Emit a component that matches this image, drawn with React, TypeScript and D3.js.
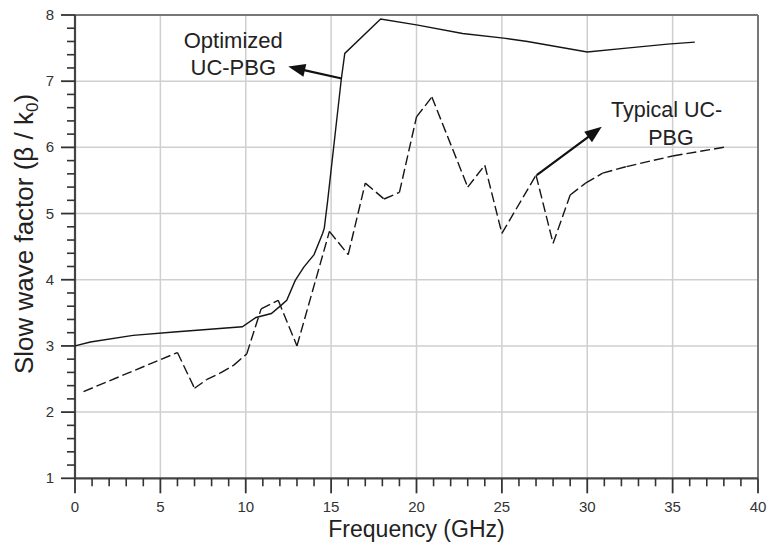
import React from "react";
import * as d3 from "d3";

const optFreq = [0, 0.9, 3.4, 5.8, 9.8, 10.6, 11.5, 12.1, 12.4, 12.9, 13.4, 14.0, 14.5, 14.6, 14.8, 15.6, 15.8, 17.9, 20.0, 22.7, 25.1, 26.5, 30.0, 32.3, 34.7, 36.3];
const optVal = [3.0, 3.06, 3.16, 3.21, 3.29, 3.43, 3.49, 3.62, 3.69, 3.99, 4.19, 4.38, 4.7, 4.78, 5.2, 7.04, 7.42, 7.94, 7.85, 7.72, 7.65, 7.6, 7.44, 7.5, 7.56, 7.59];

const typFreq = [0.5, 6.0, 7.0, 7.7, 8.5, 9.3, 10.06, 10.9, 11.9, 13.0, 14.9, 16.0, 17.0, 18.1, 19.0, 20.0, 20.9, 23.0, 24.0, 25.0, 27.0, 28.0, 29.0, 29.9, 30.9, 32.3, 35.0, 38.2];
const typVal = [2.31, 2.9, 2.36, 2.49, 2.59, 2.71, 2.88, 3.56, 3.69, 3.0, 4.73, 4.38, 5.46, 5.22, 5.32, 6.46, 6.76, 5.4, 5.73, 4.7, 5.58, 4.55, 5.28, 5.46, 5.61, 5.71, 5.87, 6.01];

const xMajor = [0, 5, 10, 15, 20, 25, 30, 35, 40];
const yMajor = [1, 2, 3, 4, 5, 6, 7, 8];

const xTitle = "Frequency (GHz)";
const yTitleMain = "Slow wave factor (β / k";
const yTitleSub = "0";
const annOpt = ["Optimized", "UC-PBG"];
const annTyp = ["Typical UC-", "PBG"];

const W = 770, H = 547;
const FONT = "'Liberation Sans', Arial, sans-serif";

export default function App() {
  const x = d3.scaleLinear().domain([0, 40]).range([75, 758]);
  const y = d3.scaleLinear().domain([1, 8]).range([478.3, 15]);

  const xMinor = d3.range(0, 40.001, 1).filter((v) => v % 5 !== 0);
  const yMinor = d3.range(1, 8.001, 0.2).map((v) => +v.toFixed(1)).filter((v) => Math.abs(v - Math.round(v)) > 0.01);

  const line = d3.line<[number, number]>().x((d) => x(d[0])).y((d) => y(d[1]));
  const optPts: [number, number][] = optFreq.map((f, i) => [f, optVal[i]]);
  const typPts: [number, number][] = typFreq.map((f, i) => [f, typVal[i]]);
  const typSegs = d3.pairs(typPts);

  const arrow = (x1: number, y1: number, x2: number, y2: number, key: string) => {
    const ax1 = x(x1), ay1 = y(y1), ax2 = x(x2), ay2 = y(y2);
    const ang = Math.atan2(ay2 - ay1, ax2 - ax1);
    const L = 17, hw = 6.5;
    const bx = ax2 - L * Math.cos(ang), by = ay2 - L * Math.sin(ang);
    const px = -Math.sin(ang) * hw, py = Math.cos(ang) * hw;
    return (
      <g key={key}>
        <line x1={ax1} y1={ay1} x2={bx + 2 * Math.cos(ang)} y2={by + 2 * Math.sin(ang)} stroke="#111" strokeWidth={2.2} />
        <polygon points={`${ax2},${ay2} ${bx + px},${by + py} ${bx - px},${by - py}`} fill="#111" />
      </g>
    );
  };

  return (
    <svg width={W} height={H} style={{ position: "absolute", left: 0, top: 0, background: "#fff" }} fontFamily={FONT}>
      <rect width={W} height={H} fill="#fff" />
      {/* grid */}
      {xMajor.slice(1, -1).map((v) => (
        <line key={"gx" + v} x1={x(v)} x2={x(v)} y1={y(8)} y2={y(1)} stroke="#cfcfcf" strokeWidth={1.5} />
      ))}
      {yMajor.slice(1, -1).map((v) => (
        <line key={"gy" + v} x1={x(0)} x2={x(40)} y1={y(v)} y2={y(v)} stroke="#cfcfcf" strokeWidth={1.5} />
      ))}
      {/* frame */}
      <line x1={x(0)} x2={x(40)} y1={y(8)} y2={y(8)} stroke="#777" strokeWidth={2} />
      <line x1={x(40)} x2={x(40)} y1={y(8)} y2={y(1)} stroke="#777" strokeWidth={2} />
      <line x1={x(0)} x2={x(40)} y1={y(1)} y2={y(1)} stroke="#444" strokeWidth={2.2} />
      <line x1={x(0)} x2={x(0)} y1={y(8)} y2={y(1)} stroke="#444" strokeWidth={2.2} />
      {/* x ticks */}
      {xMajor.map((v) => (
        <g key={"xt" + v}>
          <line x1={x(v)} x2={x(v)} y1={y(1)} y2={y(1) + 15} stroke="#333" strokeWidth={1.8} />
          <text x={x(v)} y={512} textAnchor="middle" fontSize={15} fill="#333">{v}</text>
        </g>
      ))}
      {xMinor.map((v) => (
        <line key={"xm" + v} x1={x(v)} x2={x(v)} y1={y(1)} y2={y(1) + 8} stroke="#333" strokeWidth={1.6} />
      ))}
      {/* y ticks */}
      {yMajor.map((v) => (
        <g key={"yt" + v}>
          <line x1={x(0) - 14} x2={x(0)} y1={y(v)} y2={y(v)} stroke="#333" strokeWidth={1.8} />
          <text x={54} y={y(v) + 5} textAnchor="end" fontSize={15} fill="#333">{v}</text>
        </g>
      ))}
      {yMinor.map((v) => (
        <line key={"ym" + v} x1={x(0) - 8} x2={x(0)} y1={y(v)} y2={y(v)} stroke="#333" strokeWidth={1.6} />
      ))}
      {/* titles */}
      <text x={416.5} y={537} textAnchor="middle" fontSize={23} fill="#222">{xTitle}</text>
      <text transform={`translate(33,${234}) rotate(-90)`} textAnchor="middle" fontSize={26} fill="#222">
        {yTitleMain}
        <tspan fontSize={17} dy={5}>{yTitleSub}</tspan>
        <tspan dy={-5}>)</tspan>
      </text>
      {/* series */}
      <path d={line(optPts) || ""} fill="none" stroke="#151515" strokeWidth={1.4} />
      {typSegs.map((s, i) => (
        <path key={"ts" + i} d={line(s) || ""} fill="none" stroke="#151515" strokeWidth={1.4} strokeDasharray="10,4" />
      ))}
      {/* annotations */}
      <text x={x(9.27)} y={y(7.5)} textAnchor="middle" fontSize={22} fill="#222">{annOpt[0]}</text>
      <text x={x(9.27)} y={y(7.09)} textAnchor="middle" fontSize={22} fill="#222">{annOpt[1]}</text>
      {arrow(15.62, 7.04, 12.49, 7.22, "a1")}
      <text x={x(34.65)} y={y(6.46)} textAnchor="middle" fontSize={21.5} fill="#222">{annTyp[0]}</text>
      <text x={x(34.9)} y={y(6.03)} textAnchor="middle" fontSize={21.5} fill="#222">{annTyp[1]}</text>
      {arrow(27.04, 5.58, 30.85, 6.31, "a2")}
    </svg>
  );
}
